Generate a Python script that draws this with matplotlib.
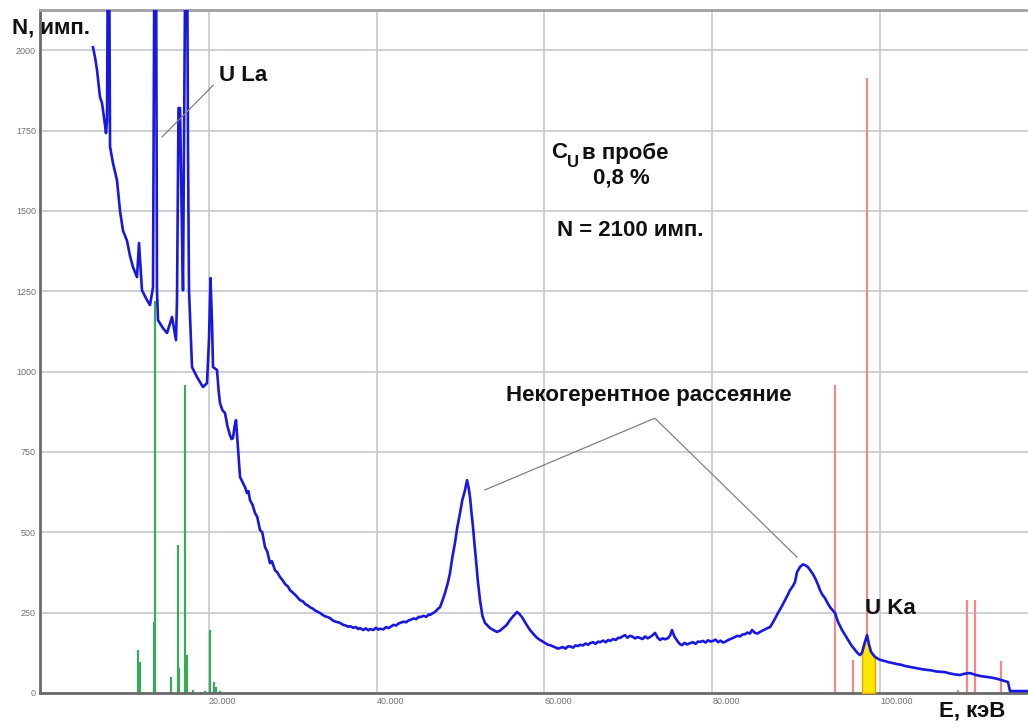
import numpy as np
import matplotlib
matplotlib.use("Agg")
import matplotlib.pyplot as plt

plt.rcParams['font.family'] = ['Liberation Sans', 'DejaVu Sans']

# ---- data (energy in eV, counts) ----
spec_E = [6170, 6410, 6650, 7005, 7245, 7480, 7720, 7840, 7960, 8080, 8200, 8555,
          9030, 9390, 9750, 10225, 10580, 10940, 11415, 11655, 12010, 12610, 12965,
          13325, 13505, 13680, 13800, 13920, 14515, 14995, 15590, 16065, 16185, 16365,
          16545, 16780, 16900, 17020, 17200, 17380, 17495, 17615, 17975, 18570, 19285,
          19760, 20000, 20180, 20360, 20480, 20955, 21150, 21310, 21600, 21910, 22200,
          22505, 22700, 22860, 23050, 23220, 23350, 23460, 23700,
          24055, 24300, 24530, 24700, 24890, 25200, 25485, 25750, 26080, 26350, 26680,
          26950, 27275, 27500, 27870, 28150, 28465, 28800, 29100, 29400, 29660, 30000,
          30300, 30600, 30850, 31200, 31500, 31800, 32045, 32400, 32700, 33000, 33235,
          33600, 33900, 34200, 34425, 34800, 35100, 35400, 35620, 36000, 36300, 36600,
          36810, 37200, 37500, 37800, 38005, 38400, 38700, 39000, 39195, 39600, 39900,
          40200, 40390, 40800, 41100, 41400, 41580, 42000, 42300, 42600, 42775, 43200,
          43500, 43800, 43965, 44400, 44700, 45000, 45160, 45600, 45900, 46200, 46350,
          46800, 47100, 47300, 47545, 47800, 48140, 48450, 48735, 49000, 49330, 49600,
          49930, 50200, 50525, 50765, 50950, 51120, 51300, 51480, 51650, 51835, 52050,
          52310, 52600, 52910, 53200, 53505, 53900, 54340, 54700, 55055, 55500, 55890,
          56300, 56725, 57000, 57320, 57800, 58275, 58800, 59100, 59465, 59800, 60100,
          60400, 60660, 61000, 61300, 61600, 61850, 62200, 62500, 62800, 63045, 63400,
          63700, 64000, 64235, 64600, 64900, 65200, 65430, 65800, 66100, 66400, 66620,
          67000, 67300, 67600, 67815, 68200, 68500, 68800, 69005, 69300, 69600, 69900,
          70200, 70435, 70800, 71100, 71390, 71700, 72000, 72300, 72580, 72900, 73180,
          73500, 73775, 74100, 74400, 74730, 75000, 75205, 75500, 75920, 76150, 76400,
          76700, 77000, 77350, 77700, 78000, 78300, 78545, 78900, 79200, 79500, 79800,
          80095, 80400, 80700, 81000, 81300, 81525, 81900, 82200, 82500, 82715, 83000,
          83300, 83600, 83910, 84200, 84500, 84745, 85100, 85400, 85700, 86000, 86300,
          86600, 86890, 87200, 87500, 87840, 88200, 88680, 89000, 89275, 89600, 89870,
          90110, 90465, 90800, 91060, 91400, 91660, 92000, 92255, 92600, 92850, 93150,
          93450, 93750, 94045, 94350, 94640, 95000, 95250, 95475, 95800, 96190, 96600,
          97025, 97300, 97620, 97858, 98100, 98456, 98695, 98935, 99410, 100005, 100500,
          101000, 101555, 102000, 102500, 103000, 103580, 104000, 104500, 105000, 105605,
          106200, 106700, 107200, 107750, 108300, 108900, 109540, 110100, 110735, 111300,
          111925, 112500, 113000, 113475, 114000, 114500, 114910, 115265, 115505, 117650]
spec_N = [2009, 1978, 1938, 1854, 1835, 1791, 1742, 1780, 2400, 2400, 1700, 1648,
          1595, 1500, 1438, 1407, 1360, 1325, 1294, 1400, 1253, 1222, 1207,
          1262, 2400, 2400, 1250, 1160, 1135, 1120, 1170, 1098, 1225, 1820,
          1820, 1430, 1253, 1700, 2400, 2400, 1700, 1253, 1014, 983, 952,
          964, 1100, 1291, 1150, 1014, 1005, 940, 902, 880, 871, 830,
          802, 790, 793, 830, 849, 800, 756, 672,
          653, 640, 622, 628, 600, 585, 560, 548, 507, 500, 454,
          440, 404, 410, 382, 375, 361, 350, 338, 332, 320, 312,
          305, 296, 289, 285, 276, 272, 267, 262, 256, 252, 249,
          242, 238, 236, 233, 225, 222, 220, 218, 212, 210, 206,
          208, 203, 205, 199, 202, 196, 201, 195, 199, 196, 203,
          197, 200, 198, 205, 202, 205, 212, 210, 216, 218, 222,
          220, 226, 227, 232, 230, 237, 236, 240, 237, 244, 243,
          250, 256, 262, 267, 285, 311, 340, 373, 420, 467, 515,
          560, 600, 631, 662, 640, 610, 560, 516, 465, 414, 350,
          289, 240, 218, 210, 202, 196, 190, 194, 202, 212, 227,
          240, 252, 246, 236, 215, 196, 180, 172, 165, 160, 155,
          150, 149, 145, 142, 138, 140, 143, 138, 145, 145, 141,
          148, 146, 150, 148, 154, 150, 155, 158, 153, 160, 158,
          163, 158, 165, 162, 168, 165, 172, 171, 176, 180, 172,
          178, 176, 170, 174, 171, 168, 176, 170, 174, 180, 187,
          172, 165, 170, 167, 171, 180, 196, 175, 159, 152, 149,
          156, 151, 155, 158, 153, 160, 159, 162, 157, 164, 160,
          162, 166, 158, 163, 157, 159, 165, 168, 172, 174, 178,
          176, 182, 183, 188, 185, 196, 187, 185, 190, 194, 198,
          202, 205, 218, 232, 249, 265, 289, 305, 320, 332, 345,
          376, 392, 400, 398, 392, 383, 370, 358, 338, 320, 305,
          295, 280, 267, 258, 249, 221, 208, 196, 182, 165, 148,
          134, 125, 118, 125, 149, 180, 150, 128, 112, 103, 100,
          96, 93, 90, 88, 84, 81, 79, 76, 74, 72,
          70, 67, 66, 65, 61, 58, 56, 60, 62, 57,
          53, 51, 49, 47, 44, 40, 37, 34, 6, 6]

# U L-lines (green) and U K-lines (red)
l_lines_E = [11535, 11775, 13445, 13620, 15470, 16305, 16425, 17140, 17320, 18095,
             19525, 20060, 20600, 20835, 21310]
l_lines_N = [134, 97, 221, 1220, 50, 460, 78, 958, 118, 10, 5, 196, 34, 20, 5]
k_lines_E = [94640, 96785, 98456, 109300, 110380, 111335, 114435]
k_lines_N = [958, 103, 1913, 10, 290, 290, 100]

y_ticks = [0, 250, 500, 750, 1000, 1250, 1500, 1750, 2000]
x_ticks = [20000, 40000, 60000, 80000, 100000]
x_tick_labels = ['20.000', '40.000', '60.000', '80.000', '100.000']

fig = plt.figure(figsize=(10.28, 7.26), dpi=100)
ax = fig.add_axes([40/1028, 1 - 693/726, (1028 - 40)/1028, (693 - 10)/726])
ax.set_xlim(-150, 117650)
ax.set_ylim(0, 2125)

ax.set_yticks(y_ticks)
ax.set_yticklabels([str(v) for v in y_ticks], fontsize=6.5, color='#707070')
ax.set_xticks(x_ticks)
ax.set_xticklabels(x_tick_labels, fontsize=6.5, color='#707070', ha='left')
ax.tick_params(length=0, pad=3)
ax.grid(True, color='#c9cdd2', linewidth=1.3, zorder=0)
ax.set_axisbelow(True)

for s in ['left', 'bottom']:
    ax.spines[s].set_color('#6a6a6a')
    ax.spines[s].set_linewidth(2)
ax.spines['top'].set_color('#a0a0a0')
ax.spines['top'].set_linewidth(2)
ax.spines['right'].set_visible(False)

ax.vlines(l_lines_E, 0, l_lines_N, color='#3aaa5a', linewidth=1.6, zorder=2)
ax.vlines(k_lines_E, 0, k_lines_N, color='#f08a8a', linewidth=1.6, zorder=2)

E = np.array(spec_E)
N = np.array(spec_N)
ax.fill_between(E, 0, N, where=(E >= 97850) & (E <= 99420), color='#ffe600',
                edgecolor='#f0a000', linewidth=1, zorder=3)
ax.plot(E, N, color='#1818e0', linewidth=1.9, zorder=4, clip_on=True)

bold = dict(fontweight='bold', color='#111111')
fig.text(12/1028, 1 - 28/726, 'N, имп.', fontsize=16, va='center', ha='left', **bold)
fig.text(972/1028, 1 - 711/726, 'E, кэВ', fontsize=16, va='center', ha='center', **bold)

ax.text(24055, 1922, 'U La', fontsize=16, ha='center', va='center', **bold)
ax.plot([20500, 14400], [1891, 1730], color='#808080', linewidth=0.9, zorder=5)

ax.text(101200, 264, 'U Ka', fontsize=16, ha='center', va='center', **bold)

ax.text(72450, 927, 'Некогерентное рассеяние', fontsize=16, ha='center', va='center', **bold)
ax.plot([52910, 73160, 90100], [632, 855, 423], color='#808080', linewidth=0.9, zorder=5)

ax.text(61800, 1683, 'C', fontsize=16, ha='center', va='center', **bold)
ax.text(63400, 1650, 'U', fontsize=12, ha='center', va='center', **bold)
ax.text(64500, 1680, 'в пробе', fontsize=16, ha='left', va='center', **bold)
ax.text(69200, 1603, '0,8 %', fontsize=16, ha='center', va='center', **bold)
ax.text(70200, 1440, 'N = 2100 имп.', fontsize=16, ha='center', va='center', **bold)

fig.savefig('out.png', dpi=100)
